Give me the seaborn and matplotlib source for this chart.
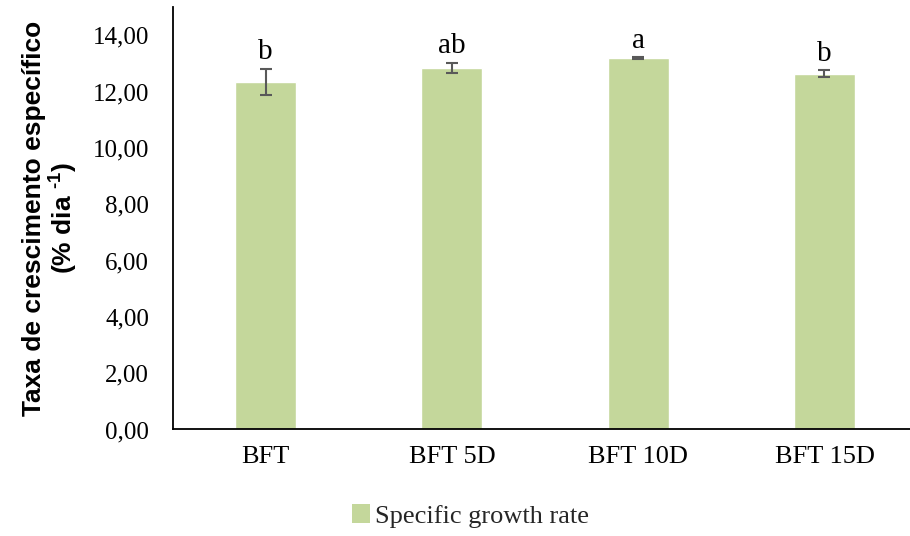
import matplotlib
matplotlib.use("Agg")
import matplotlib.pyplot as plt
import seaborn as sns
import pandas as pd
from matplotlib.patches import Patch

# Specific growth rate per treatment (mean ± SD)
treatments = ["BFT", "BFT 5D", "BFT 10D", "BFT 15D"]
growth_rate = [12.33, 12.83, 13.18, 12.63]
growth_sd = [0.46, 0.19, 0.03, 0.12]
letters = ["b", "ab", "a", "b"]
y_ticks = [0, 2, 4, 6, 8, 10, 12, 14]
y_tick_labels = ["0,00", "2,00", "4,00", "6,00", "8,00", "10,00", "12,00", "14,00"]

bar_color = "#C4D79B"
err_color = "#595959"
serif = ["Liberation Serif", "DejaVu Serif"]
sans = ["Liberation Sans", "DejaVu Sans"]

sns.set_theme(style="white")
plt.rcParams["font.family"] = serif
plt.rcParams["mathtext.fontset"] = "custom"
plt.rcParams["mathtext.rm"] = "Liberation Sans:bold"
plt.rcParams["mathtext.bf"] = "Liberation Sans:bold"

df = pd.DataFrame({"Tratamento": treatments, "Taxa": growth_rate})

fig = plt.figure(figsize=(9.10, 5.36), dpi=100)
ax = fig.add_axes([0.1896, 0.1987, 0.8104, 0.7883])

sns.barplot(data=df, x="Tratamento", y="Taxa", color=bar_color,
            saturation=1, width=0.327, errorbar=None, ax=ax)

xs = range(len(treatments))
ax.errorbar(list(xs), growth_rate, yerr=growth_sd, fmt="none",
            ecolor=err_color, elinewidth=1.5, capsize=4.5, capthick=1.5)

for x, m, s, lab in zip(xs, growth_rate, growth_sd, letters):
    ax.annotate(lab, xy=(x, m + s), xytext=(0, 7), textcoords="offset points",
                ha="center", va="baseline", fontsize=21, family=serif,
                color="black")

ax.set_ylim(0, 15)
ax.set_xlim(-0.5, 3.459)
ax.set_yticks(y_ticks)
ax.set_yticklabels(y_tick_labels)
ax.tick_params(axis="y", length=0, pad=17, labelsize=18, colors="black")
ax.tick_params(axis="x", length=0, pad=12, labelsize=19, colors="black")
for t in ax.get_xticklabels() + ax.get_yticklabels():
    t.set_fontfamily(serif)

ax.set_xlabel("")
ax.set_ylabel("Taxa de crescimento específico\n(% dia $^{\\text{-1}}$)", fontsize=19,
              fontweight="bold", family=sans, color="black", linespacing=1.0,
              labelpad=10)

for side in ["top", "right"]:
    ax.spines[side].set_visible(False)
for side in ["left", "bottom"]:
    ax.spines[side].set_color("black")
    ax.spines[side].set_linewidth(1.3)

handle = Patch(facecolor=bar_color, edgecolor="none")
fig.legend([handle], ["Specific growth rate"], loc="center",
           bbox_to_anchor=(0.517, 1 - 516 / 536), frameon=False,
           handlelength=0.7, handleheight=0.7, handletextpad=0.2,
           prop={"family": serif, "size": 19})

fig.savefig("out.png", dpi=100)
